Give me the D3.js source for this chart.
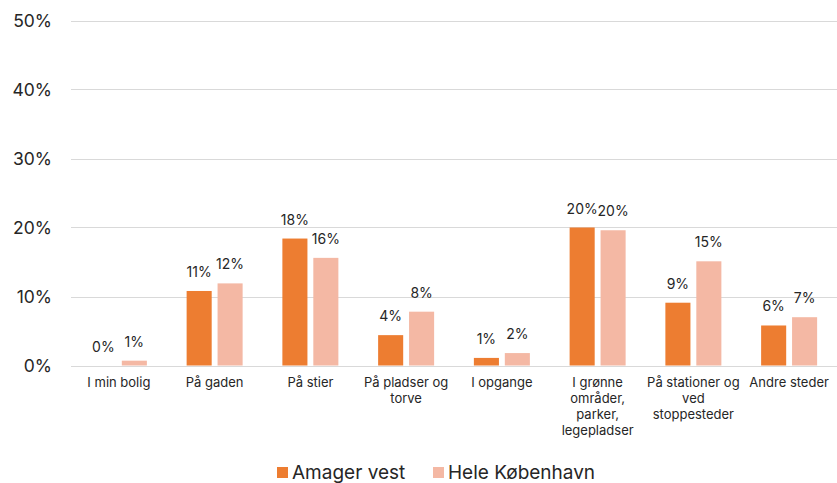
<!DOCTYPE html>
<html><head><meta charset="utf-8">
<script src="https://cdn.jsdelivr.net/npm/d3@7"></script>
<style>
html,body{margin:0;padding:0;background:#fff;}
svg text{font-family:Inter,"Noto Sans",sans-serif;fill:#262626;}
</style></head>
<body><svg id="c" width="837" height="483"></svg>
<script>
const categories = ["I min bolig","På gaden","På stier","På pladser og torve","I opgange","I grønne områder, parker, legepladser","På stationer og ved stoppesteder","Andre steder"];
const seriesNames = ["Amager vest","Hele København"];
const amagerVest = [0, 10.8, 18.4, 4.4, 1.1, 20.0, 9.1, 5.8];
const heleKobenhavn = [0.7, 11.9, 15.6, 7.8, 1.8, 19.6, 15.1, 7.0];
const yTicks = [0, 10, 20, 30, 40, 50];
const colors = ["#ED7D31", "#F4B8A4"];

const svg = d3.select("#c");
const left = 71, right = 837, y0 = 365.5, yTop = 20.5;
const x0 = d3.scaleBand().domain(categories).range([left, right]);
const groupW = 56;
const x1 = d3.scaleBand().domain(seriesNames).range([0, groupW]).paddingInner(0.19);
const y = d3.scaleLinear().domain([0, 50]).range([y0, yTop]);

// gridlines
svg.append("g").selectAll("line").data(yTicks).join("line")
  .attr("x1", left).attr("x2", right)
  .attr("y1", d => Math.round(y(d)) + 0.5).attr("y2", d => Math.round(y(d)) + 0.5)
  .attr("stroke", "#d9d9d9").attr("stroke-width", 1);

// y tick labels
svg.append("g").selectAll("text").data(yTicks).join("text")
  .attr("x", 52).attr("y", d => y(d)).attr("dy", "0.35em")
  .attr("text-anchor", "end").attr("font-size", 17.5)
  .text(d => d + "%");

const series = [amagerVest, heleKobenhavn];
const groups = svg.append("g").selectAll("g").data(categories).join("g")
  .attr("transform", d => `translate(${x0(d) + (x0.bandwidth() - groupW) / 2},0)`);

groups.each(function(c, i) {
  const g = d3.select(this);
  seriesNames.forEach((s, k) => {
    const v = series[k][i];
    g.append("rect")
      .attr("x", x1(s)).attr("width", x1.bandwidth())
      .attr("y", y(v)).attr("height", y0 - y(v))
      .attr("fill", colors[k]);
    g.append("text")
      .attr("x", x1(s) + x1.bandwidth() / 2)
      .attr("y", y(v) - 14)
      .attr("text-anchor", "middle").attr("font-size", 14)
      .text(Math.round(v) + "%");
  });
});

// x axis labels with wrapping
const xl = svg.append("g");
categories.forEach(c => {
  const t = xl.append("text").attr("text-anchor", "middle").attr("font-size", 13)
    .attr("x", x0(c) + x0.bandwidth() / 2).attr("y", 387);
  const words = c.split(" ");
  let line = [], lines = [];
  const maxW = x0.bandwidth() + 2;
  const probe = t.append("tspan");
  words.forEach(w => {
    const trial = line.concat([w]).join(" ");
    probe.text(trial);
    if (probe.node().getComputedTextLength() > maxW && line.length) {
      lines.push(line.join(" ")); line = [w];
    } else line.push(w);
  });
  lines.push(line.join(" "));
  probe.remove();
  lines.forEach((ln, j) => {
    t.append("tspan").attr("x", x0(c) + x0.bandwidth() / 2).attr("dy", j ? 16 : 0).text(ln);
  });
});

// legend
const lg = svg.append("g");
const legendX = [277, 433];
seriesNames.forEach((s, k) => {
  lg.append("rect").attr("x", legendX[k]).attr("y", 467).attr("width", 11).attr("height", 11).attr("fill", colors[k]);
  lg.append("text").attr("x", legendX[k] + 15).attr("y", 478.5).attr("font-size", 19).text(s);
});
</script></body></html>
